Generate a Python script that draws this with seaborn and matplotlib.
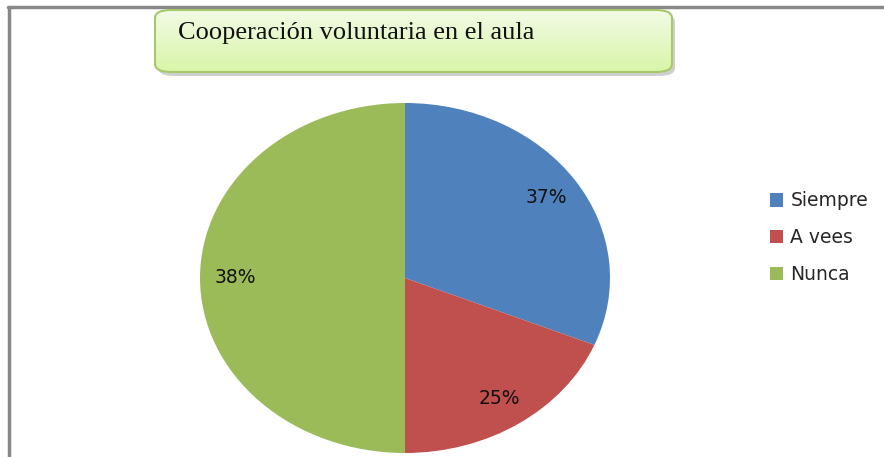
import numpy as np
import seaborn as sns
import matplotlib.pyplot as plt
from matplotlib.patches import FancyBboxPatch
from matplotlib.lines import Line2D
from matplotlib.colors import LinearSegmentedColormap

# data
categories = ['Siempre', 'A vees', 'Nunca']
slice_sizes = [5, 3, 8]          # wedge sizes as drawn
pct_labels = ['37%', '25%', '38%']  # labels as printed on the chart
colors = ['#4F81BD', '#C0504D', '#9BBB59']
title = 'Cooperación voluntaria en el aula'

sns.set_theme(style='white')
plt.rcParams['font.family'] = ['DejaVu Sans']

W, H = 884, 457
fig = plt.figure(figsize=(W / 100, H / 100), dpi=100)

# outer frame: top and left gray lines only
fig.add_artist(Line2D([8 / W, 1], [1 - 7 / H, 1 - 7 / H], color='#888888', lw=2.5, transform=fig.transFigure))
fig.add_artist(Line2D([9 / W, 9 / W], [0, 1 - 7 / H], color='#888888', lw=2.5, transform=fig.transFigure))

# pie in a stretched (elliptical) axes
ax = fig.add_axes([200 / W, 4 / H, 410 / W, 350 / H])
wedges, texts, autotexts = ax.pie(slice_sizes, colors=colors, startangle=90, counterclock=False,
                                  autopct='%1.0f%%', pctdistance=0.83,
                                  wedgeprops=dict(linewidth=0))
for t, lab in zip(autotexts, pct_labels):
    t.set_text(lab)
    t.set_fontsize(13.5)
    t.set_color('#111111')
ax.set_aspect('auto')
ax.set_xlim(-1, 1)
ax.set_ylim(-1, 1)
ax.axis('off')

# legend
fig.legend(wedges, categories, loc='upper left', bbox_to_anchor=(762 / W, 1 - 184 / H),
           frameon=False, fontsize=13.5, handlelength=0.72, handleheight=0.72,
           handletextpad=0.4, labelspacing=0.95, borderaxespad=0)

# title box with shadow and light green gradient
bx0, by0, bw, bh = 155, 10, 517, 62
shadow = FancyBboxPatch(((bx0 + 3) / W, 1 - (by0 + bh + 4) / H), bw / W, bh / H,
                        boxstyle='round,pad=0,rounding_size=0.018', transform=fig.transFigure,
                        facecolor='#b0b0b0', edgecolor='none', alpha=0.6)
fig.add_artist(shadow)
bg = fig.add_axes([0, 0, 1, 1], zorder=3)
bg.set_xlim(0, 1)
bg.set_ylim(0, 1)
bg.axis('off')
bg.patch.set_alpha(0)
box = FancyBboxPatch((bx0 / W, 1 - (by0 + bh) / H), bw / W, bh / H,
                     boxstyle='round,pad=0,rounding_size=0.018',
                     facecolor='none', edgecolor='#A6C86A', lw=1.5, zorder=4)
bg.add_patch(box)
cmap = LinearSegmentedColormap.from_list('g', ['#D8F5A8', '#F3FBE6'])
grad = np.linspace(0, 1, 64).reshape(-1, 1)
im = bg.imshow(grad, cmap=cmap, origin='lower', aspect='auto', zorder=3,
               extent=[bx0 / W, (bx0 + bw) / W, 1 - (by0 + bh) / H, 1 - by0 / H])
im.set_clip_path(box)
bg.text(178 / W, 1 - 33 / H, title, family='Liberation Serif', fontsize=19,
        ha='left', va='center', color='#111111', zorder=5)

fig.savefig('out.png', dpi=100)
